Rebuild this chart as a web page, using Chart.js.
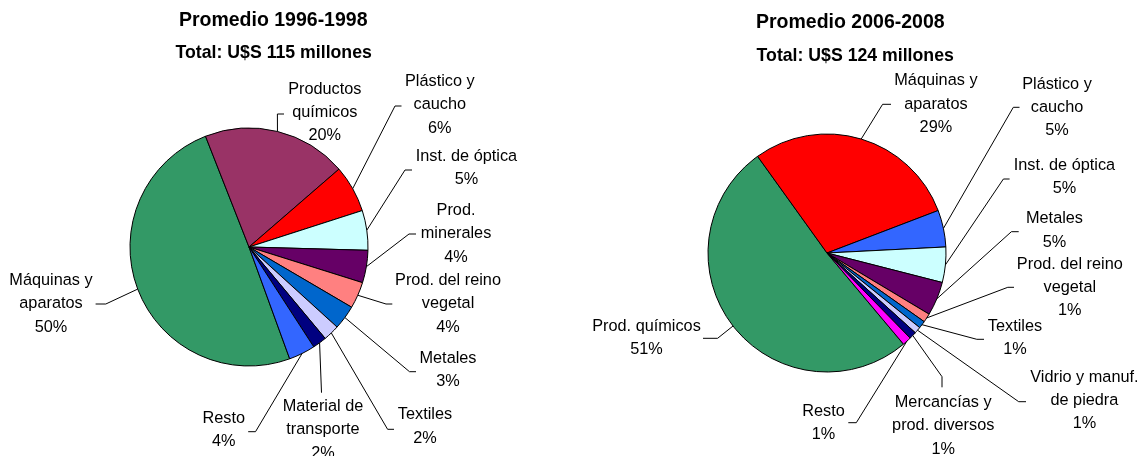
<!DOCTYPE html>
<html>
<head>
<meta charset="utf-8">
<script src="https://cdn.jsdelivr.net/npm/chart.js@4.4.1/dist/chart.umd.min.js"></script>
<style>
body { margin: 0; background: #fff; }
#wrap { position: relative; width: 1137px; height: 456px; }
canvas { position: absolute; top: 0; }
</style>
</head>
<body>
<div id="wrap">
  <canvas id="pie1998" width="568" height="456" style="left:0"></canvas>
  <canvas id="pie2008" width="569" height="456" style="left:568px"></canvas>
</div>
<script>
// Promedio 1996-1998
const categories1998 = [['Máquinas y', 'aparatos'], ['Productos', 'químicos'], ['Plástico y', 'caucho'], ['Inst. de óptica'],
    ['Prod.', 'minerales'], ['Prod. del reino', 'vegetal'], ['Metales'], ['Textiles'], ['Material de', 'transporte'], ['Resto']];
const values1998 = [49.6, 19.6, 6.4, 5.4, 4.4, 3.6, 3.3, 2.2, 1.9, 3.6];
const colors1998 = ['#339966', '#993366', '#FF0000', '#CCFFFF', '#660066', '#FF8080', '#0066CC', '#CCCCFF', '#000080', '#3366FF'];

// Promedio 2006-2008
const categories2008 = [['Prod. químicos'], ['Máquinas y', 'aparatos'], ['Plástico y', 'caucho'], ['Inst. de óptica'], ['Metales'],
    ['Prod. del reino', 'vegetal'], ['Textiles'], ['Vidrio y manuf.', 'de piedra'], ['Mercancías y', 'prod. diversos'], ['Resto']];
const values2008 = [51.2, 29.1, 5.0, 4.8, 4.6, 1.2, 1.0, 0.9, 1.0, 1.2];
const colors2008 = ['#339966', '#FF0000', '#3366FF', '#CCFFFF', '#660066', '#FF8080', '#0066CC', '#CCCCFF', '#000080', '#FF00FF'];

const FONT = '"Liberation Sans", Arial, sans-serif';
const LINE_H = 23.3;

// where each label sits (text centre of first line) and how its leader line bends
const labelPos1998 = [
    {x: 51, y: 280.7, elbow: [105.8, 304], end: [95.6, 304]},
    {x: 324.8, y: 89.3, elbow: [277.4, 114], end: [284, 114]},
    {x: 439.8, y: 81.7, elbow: [395, 106], end: [401.5, 106]},
    {x: 466.4, y: 156.7, elbow: [405, 170], end: [412, 170]},
    {x: 456, y: 210.7, elbow: [409, 234], end: [416, 234]},
    {x: 448, y: 280.7, elbow: [386, 304], end: [392.3, 304]},
    {x: 448, y: 358.3, elbow: [409.5, 371.7], end: [416, 371.7]},
    {x: 425, y: 415, elbow: [387.6, 429.3], end: [394, 429.3]},
    {x: 323, y: 406.7, elbow: [321.5, 392.7], end: [321.5, 392.7]},
    {x: 223.7, y: 418.3, elbow: [255.5, 431.7], end: [248.2, 431.7]}
];
const labelPos2008 = [
    {x: 78.5, y: 326.7, elbow: [149.6, 338.3], end: [135, 338.3]},
    {x: 367.9, y: 81, elbow: [314.6, 104.3], end: [323, 104.3]},
    {x: 489, y: 84.3, elbow: [445.3, 107.3], end: [451.5, 107.3]},
    {x: 496.4, y: 165.7, elbow: [435.4, 179], end: [441.6, 179]},
    {x: 486.5, y: 219, elbow: [443.4, 231.7], end: [450.7, 231.7]},
    {x: 501.8, y: 264.3, elbow: [439.8, 287.3], end: [446, 287.3]},
    {x: 447, y: 326.7, elbow: [408.8, 339.3], end: [416, 339.3]},
    {x: 516.4, y: 377.3, elbow: [450.7, 401.7], end: [458, 401.7]},
    {x: 375.2, y: 402.7, elbow: [374, 376.7], end: [374, 387.3]},
    {x: 255.5, y: 411.7, elbow: [288.3, 422.7], end: [280.3, 422.7]}
];

const sliceLabels = {
    id: 'sliceLabels',
    afterDraw(chart, args, opts) {
        const ctx = chart.ctx;
        const data = chart.data.datasets[0].data;
        const total = data.reduce((a, b) => a + b, 0);
        const arcs = chart.getDatasetMeta(0).data;
        ctx.save();
        // titles
        ctx.fillStyle = '#000';
        ctx.textAlign = 'center';
        ctx.textBaseline = 'middle';
        ctx.font = 'bold 19.5px ' + FONT;
        ctx.fillText(opts.title.text, opts.title.x, opts.title.y);
        ctx.font = 'bold 17.7px ' + FONT;
        ctx.fillText(opts.subtitle.text, opts.subtitle.x, opts.subtitle.y);
        // leader lines
        ctx.strokeStyle = '#000';
        ctx.lineWidth = 1;
        arcs.forEach((arc, i) => {
            const p = arc.getProps(['x', 'y', 'startAngle', 'endAngle', 'outerRadius'], true);
            const mid = (p.startAngle + p.endAngle) / 2;
            const pos = opts.positions[i];
            ctx.beginPath();
            ctx.moveTo(p.x + Math.cos(mid) * p.outerRadius, p.y + Math.sin(mid) * p.outerRadius);
            ctx.lineTo(pos.elbow[0], pos.elbow[1]);
            ctx.lineTo(pos.end[0], pos.end[1]);
            ctx.stroke();
        });
        // label texts
        ctx.font = '16.3px ' + FONT;
        chart.data.labels.forEach((lab, i) => {
            const pos = opts.positions[i];
            const lines = lab.concat([Math.round(data[i] / total * 100) + '%']);
            lines.forEach((t, k) => ctx.fillText(t, pos.x, pos.y + k * LINE_H));
        });
        ctx.restore();
    }
};

function makePie (id, labels, values, colors, rotation, padding, positions, title, subtitle) {
    return new Chart(document.getElementById(id), {
        type: 'pie',
        data: {
            labels: labels,
            datasets: [{
                data: values,
                backgroundColor: colors,
                borderColor: '#000',
                borderWidth: 1,
                radius: 119
            }]
        },
        options: {
            responsive: false,
            animation: false,
            events: [],
            rotation: rotation,
            layout: {padding: padding},
            plugins: {
                legend: {display: false},
                tooltip: {enabled: false},
                sliceLabels: {positions: positions, title: title, subtitle: subtitle}
            }
        },
        plugins: [sliceLabels]
    });
}

makePie('pie1998', categories1998, values1998, colors1998, 160,
    {left: 130, right: 200, top: 128, bottom: 90}, labelPos1998,
    {text: 'Promedio 1996-1998', x: 273.2, y: 20.3},
    {text: 'Total: U$S 115 millones', x: 273.7, y: 53.3});

makePie('pie2008', categories2008, values2008, colors2008, 140,
    {left: 140, right: 191, top: 134, bottom: 84}, labelPos2008,
    {text: 'Promedio 2006-2008', x: 282.3, y: 22.7},
    {text: 'Total: U$S 124 millones', x: 287.2, y: 56});
</script>
</body>
</html>
